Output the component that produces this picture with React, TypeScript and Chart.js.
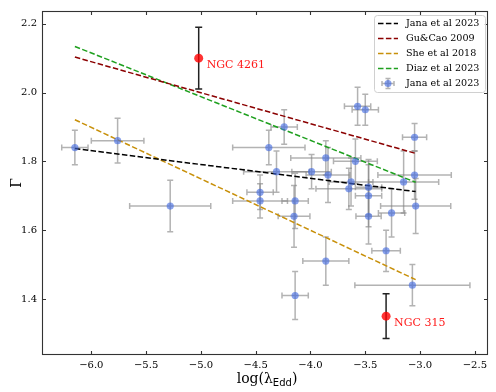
import React, { useEffect, useRef } from "react";
import { Chart, registerables } from "chart.js";

Chart.register(...registerables);

// ---------- data ----------
const xTicks = [-6.0, -5.5, -5.0, -4.5, -4.0, -3.5, -3.0, -2.5];
const yTicks = [1.4, 1.6, 1.8, 2.0, 2.2];

const janaX = [-6.15, -5.76, -5.28, -3.57, -3.50, -4.24, -4.38, -3.86, -4.31, -3.99, -3.84, -3.59, -3.63, -3.65, -4.46, -4.46, -4.14, -4.15, -3.05, -3.05, -3.15, -3.47, -3.47, -3.04, -3.26, -3.47, -3.31, -3.07, -3.86, -4.14];
const janaY = [1.84, 1.86, 1.67, 1.96, 1.95, 1.90, 1.84, 1.81, 1.77, 1.77, 1.76, 1.80, 1.74, 1.72, 1.71, 1.685, 1.685, 1.64, 1.87, 1.76, 1.74, 1.725, 1.70, 1.67, 1.65, 1.64, 1.54, 1.44, 1.51, 1.41];
const janaXErr = [0.12, 0.24, 0.37, 0.12, 0.12, 0.12, 0.33, 0.32, 0.30, 0.18, 0.20, 0.20, 0.20, 0.30, 0.12, 0.25, 0.12, 0.145, 0.11, 0.335, 0.32, 0.12, 0.12, 0.32, 0.12, 0.115, 0.13, 0.525, 0.21, 0.12];
const janaYErr = [0.05, 0.065, 0.075, 0.055, 0.045, 0.05, 0.05, 0.05, 0.06, 0.05, 0.08, 0.065, 0.07, 0.06, 0.05, 0.05, 0.08, 0.09, 0.04, 0.07, 0.09, 0.08, 0.09, 0.08, 0.07, 0.08, 0.06, 0.06, 0.07, 0.07];

const ngcNames = ["NGC 4261", "NGC 315"];
const ngcX = [-5.02, -3.31];
const ngcY = [2.10, 1.35];
const ngcYErr = [0.09, 0.065];

const fitX = [-6.15, -3.04];
const janaFitY = [1.837, 1.712];
const guCaoFitY = [2.103, 1.823];
const sheFitY = [1.921, 1.456];
const diazFitY = [2.134, 1.739];

const fitLabels = ["Jana et al 2023", "Gu&Cao 2009", "She et al 2018", "Diaz et al 2023"];
const fitColors = ["#000000", "#8b0000", "#c8900a", "#1fa01f"];
const pointLabel = "Jana et al 2023";

const SERIF = "'DejaVu Serif', serif";
const SANS = "'DejaVu Sans', sans-serif";
const DASH = [5.5, 2.4];
const BLUE = "rgba(65,105,225,0.62)";
const ERR_GRAY = "rgba(128,128,128,0.6)";

const fmt = (v: number) => v.toFixed(1).replace("-", "\u2212");

const overlayPlugin = {
  id: "overlay",
  beforeDatasetsDraw(chart: any) {
    const ctx = chart.ctx;
    const xs = chart.scales.x;
    const ys = chart.scales.y;
    const cap = 3;
    ctx.save();
    ctx.lineWidth = 1.5;
    ctx.strokeStyle = ERR_GRAY;
    for (let i = 0; i < janaX.length; i++) {
      const px = xs.getPixelForValue(janaX[i]);
      const py = ys.getPixelForValue(janaY[i]);
      const x0 = xs.getPixelForValue(janaX[i] - janaXErr[i]);
      const x1 = xs.getPixelForValue(janaX[i] + janaXErr[i]);
      const y0 = ys.getPixelForValue(janaY[i] - janaYErr[i]);
      const y1 = ys.getPixelForValue(janaY[i] + janaYErr[i]);
      ctx.beginPath();
      ctx.moveTo(x0, py); ctx.lineTo(x1, py);
      ctx.moveTo(x0, py - cap); ctx.lineTo(x0, py + cap);
      ctx.moveTo(x1, py - cap); ctx.lineTo(x1, py + cap);
      ctx.moveTo(px, y0); ctx.lineTo(px, y1);
      ctx.moveTo(px - cap, y0); ctx.lineTo(px + cap, y0);
      ctx.moveTo(px - cap, y1); ctx.lineTo(px + cap, y1);
      ctx.stroke();
    }
    ctx.strokeStyle = "#222";
    for (let i = 0; i < ngcX.length; i++) {
      const px = xs.getPixelForValue(ngcX[i]);
      const y0 = ys.getPixelForValue(ngcY[i] - ngcYErr[i]);
      const y1 = ys.getPixelForValue(ngcY[i] + ngcYErr[i]);
      ctx.beginPath();
      ctx.moveTo(px, y0); ctx.lineTo(px, y1);
      ctx.moveTo(px - 3.5, y0); ctx.lineTo(px + 3.5, y0);
      ctx.moveTo(px - 3.5, y1); ctx.lineTo(px + 3.5, y1);
      ctx.stroke();
    }
    ctx.restore();
  },
  afterDraw(chart: any) {
    const ctx = chart.ctx;
    const xs = chart.scales.x;
    const ys = chart.scales.y;
    const a = chart.chartArea;
    ctx.save();
    // frame
    ctx.strokeStyle = "#333";
    ctx.lineWidth = 1.1;
    ctx.strokeRect(Math.round(a.left) + 0.5, Math.round(a.top) + 0.5, Math.round(a.right - a.left) - 1, Math.round(a.bottom - a.top) - 1);
    // inward ticks
    const tl = 4;
    ctx.beginPath();
    for (const v of xTicks) {
      const px = Math.round(xs.getPixelForValue(v)) + 0.5;
      ctx.moveTo(px, a.bottom); ctx.lineTo(px, a.bottom - tl);
      ctx.moveTo(px, a.top); ctx.lineTo(px, a.top + tl);
    }
    for (const v of yTicks) {
      const py = Math.round(ys.getPixelForValue(v)) + 0.5;
      ctx.moveTo(a.left, py); ctx.lineTo(a.left + tl, py);
      ctx.moveTo(a.right, py); ctx.lineTo(a.right - tl, py);
    }
    ctx.stroke();

    // NGC labels
    ctx.fillStyle = "#ff1a1a";
    ctx.font = `11px ${SERIF}`;
    ctx.textAlign = "left";
    ctx.textBaseline = "middle";
    for (let i = 0; i < ngcX.length; i++) {
      const px = xs.getPixelForValue(ngcX[i]);
      const py = ys.getPixelForValue(ngcY[i]);
      ctx.fillText(ngcNames[i], px + 8, py + 7);
    }

    // axis titles
    ctx.fillStyle = "#000";
    const cx = (a.left + a.right) / 2 + 2;
    const by = 383;
    ctx.textBaseline = "alphabetic";
    const p1 = "log(\u03bb";
    ctx.font = `14px ${SERIF}`;
    const w1 = ctx.measureText(p1).width;
    ctx.font = `10px ${SANS}`;
    const w2 = ctx.measureText("Edd").width;
    ctx.font = `14px ${SERIF}`;
    const w3 = ctx.measureText(")").width;
    const sx = cx - (w1 + w2 + w3) / 2;
    ctx.textAlign = "left";
    ctx.fillText(p1, sx, by);
    ctx.font = `10px ${SANS}`;
    ctx.fillText("Edd", sx + w1, by + 3);
    ctx.font = `14px ${SERIF}`;
    ctx.fillText(")", sx + w1 + w2, by);

    ctx.save();
    ctx.translate(17, (a.top + a.bottom) / 2);
    ctx.rotate(-Math.PI / 2);
    ctx.textAlign = "center";
    ctx.textBaseline = "middle";
    ctx.font = `14px ${SERIF}`;
    ctx.fillText("\u0393", 0, 0);
    ctx.restore();

    // legend
    const lx = a.right - 114;
    const ly = a.top + 4;
    const lw = 111;
    const lh = 77;
    ctx.fillStyle = "rgba(255,255,255,0.85)";
    ctx.strokeStyle = "#d0d0d0";
    ctx.lineWidth = 1;
    ctx.beginPath();
    (ctx as any).roundRect(lx + 0.5, ly + 0.5, lw, lh, 3);
    ctx.fill();
    ctx.stroke();
    const rowH = 15;
    const row0 = ly + 8.5;
    ctx.font = `9.6px ${SERIF}`;
    ctx.textAlign = "left";
    ctx.textBaseline = "middle";
    for (let i = 0; i < fitLabels.length; i++) {
      const ry = row0 + i * rowH;
      ctx.strokeStyle = fitColors[i];
      ctx.lineWidth = 1.5;
      ctx.setLineDash(DASH);
      ctx.beginPath();
      ctx.moveTo(lx + 4, ry); ctx.lineTo(lx + 24, ry);
      ctx.stroke();
      ctx.setLineDash([]);
      ctx.fillStyle = "#000";
      ctx.fillText(fitLabels[i], lx + 32, ry);
    }
    const ry = row0 + 4 * rowH;
    const mx = lx + 14;
    ctx.strokeStyle = ERR_GRAY;
    ctx.lineWidth = 1.5;
    ctx.beginPath();
    ctx.moveTo(mx - 6, ry); ctx.lineTo(mx + 6, ry);
    ctx.moveTo(mx - 6, ry - 2.5); ctx.lineTo(mx - 6, ry + 2.5);
    ctx.moveTo(mx + 6, ry - 2.5); ctx.lineTo(mx + 6, ry + 2.5);
    ctx.moveTo(mx, ry - 5); ctx.lineTo(mx, ry + 5);
    ctx.moveTo(mx - 2.5, ry - 5); ctx.lineTo(mx + 2.5, ry - 5);
    ctx.moveTo(mx - 2.5, ry + 5); ctx.lineTo(mx + 2.5, ry + 5);
    ctx.stroke();
    ctx.fillStyle = BLUE;
    ctx.beginPath();
    ctx.arc(mx, ry, 3.5, 0, Math.PI * 2);
    ctx.fill();
    ctx.fillStyle = "#000";
    ctx.fillText(pointLabel, lx + 32, ry);
    ctx.restore();
  },
};

export default function App() {
  const ref = useRef<HTMLCanvasElement | null>(null);
  useEffect(() => {
    if (!ref.current) return;
    Chart.defaults.font.family = SERIF;
    const fits = [janaFitY, guCaoFitY, sheFitY, diazFitY];
    const lineSets = fits.map((fy, i) => ({
      type: "scatter" as const,
      label: fitLabels[i],
      data: fitX.map((x, j) => ({ x, y: fy[j] })),
      showLine: true,
      borderColor: fitColors[i],
      borderWidth: 1.5,
      borderDash: DASH,
      pointRadius: 0,
      fill: false,
      order: 2,
    }));
    const chart = new Chart(ref.current, {
      type: "scatter",
      data: {
        datasets: [
          {
            label: pointLabel,
            data: janaX.map((x, i) => ({ x, y: janaY[i] })),
            backgroundColor: BLUE,
            borderWidth: 0,
            pointRadius: 3.6,
            order: 0,
          },
          {
            label: "NGC",
            data: ngcX.map((x, i) => ({ x, y: ngcY[i] })),
            backgroundColor: "rgba(255,0,0,0.8)",
            borderWidth: 0,
            pointRadius: 4.5,
            order: 0,
          },
          ...lineSets,
        ] as any,
      },
      options: {
        animation: false,
        responsive: false,
        devicePixelRatio: 1,
        layout: { padding: { top: 5, right: 8, left: 0, bottom: 0 } },
        plugins: { legend: { display: false }, tooltip: { enabled: false } },
        scales: {
          x: {
            type: "linear",
            min: -6.45,
            max: -2.38,
            afterBuildTicks: (s: any) => { s.ticks = xTicks.map((v) => ({ value: v })); },
            afterFit: (s: any) => { s.height = 37; },
            grid: { display: false, drawTicks: false },
            border: { display: false },
            ticks: { padding: 4, color: "#000", font: { size: 10, family: SERIF }, maxRotation: 0, callback: (v: any) => fmt(Number(v)) },
          },
          y: {
            type: "linear",
            min: 1.237,
            max: 2.237,
            afterBuildTicks: (s: any) => { s.ticks = yTicks.map((v) => ({ value: v })); },
            afterFit: (s: any) => { s.width = 42; },
            grid: { display: false, drawTicks: false },
            border: { display: false },
            ticks: { padding: 5, color: "#000", font: { size: 10, family: SERIF }, callback: (v: any) => fmt(Number(v)) },
          },
        },
      },
      plugins: [overlayPlugin],
    });
    return () => chart.destroy();
  }, []);
  return (
    <div style={{ position: "fixed", left: 0, top: 0, width: 496, height: 392, background: "#fff" }}>
      <canvas ref={ref} width={496} height={392} />
    </div>
  );
}
